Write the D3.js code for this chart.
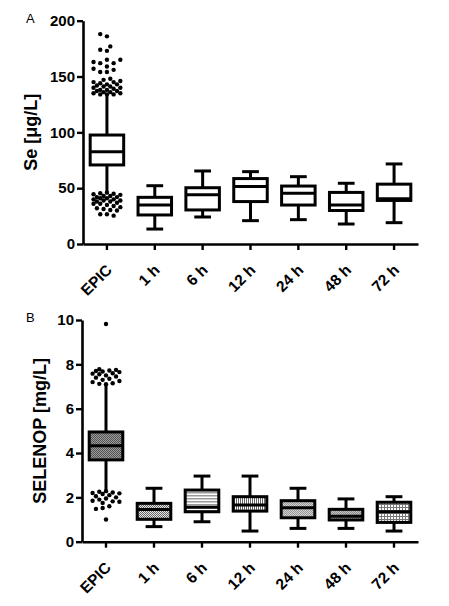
<!DOCTYPE html>
<html>
<head>
<meta charset="utf-8">
<script src="https://cdn.jsdelivr.net/npm/d3@7"></script>
<style>
  body { margin: 0; background: #fff; }
  svg { display: block; font-family: 'Liberation Sans', Arial, sans-serif; }
</style>
</head>
<body>
<div id="chart"></div>
<script>
const categories = ['EPIC', '1 h', '6 h', '12 h', '24 h', '48 h', '72 h']

// panel A: Se [µg/L]
const seLow = [46.5, 13.4, 24.2, 20.9, 21.8, 17.9, 19.1]
const seQ1 = [70.8, 26, 30.5, 38, 34.9, 30, 39]
const seMedian = [82.7, 35, 44, 51.5, 45.5, 35, 40.5]
const seQ3 = [97.6, 41.8, 50.4, 58.6, 51.9, 46.2, 53.6]
const seHigh = [133.5, 52.2, 65.4, 64.8, 60.3, 54.4, 71.7]
const seOutHigh = [188, 186, 177, 174, 173, 165, 165, 163, 162, 162, 159, 157, 156, 154, 154,
  148, 147, 146, 145, 145, 144, 143, 143, 142, 141, 141, 140, 140, 139, 138, 138, 137, 137,
  136, 136, 135, 135, 134, 134, 134]
const seOutLow = [46, 45.5, 45, 44.5, 44, 43, 43, 42, 42, 41, 41, 40, 40, 39, 39, 38, 38, 37,
  36, 36, 35, 34, 33, 32, 31.3, 30.4, 30, 26.6, 25.4, 26.6]
const seTicks = [0, 50, 100, 150, 200]

// panel B: SELENOP [mg/L]
const spLow = [2.29, 0.68, 0.9, 0.48, 0.6, 0.6, 0.48]
const spQ1 = [3.69, 1.01, 1.35, 1.38, 1.08, 0.98, 0.87]
const spMedian = [4.33, 1.45, 1.55, 1.66, 1.53, 1.15, 1.35]
const spQ3 = [4.95, 1.73, 2.33, 2.03, 1.85, 1.46, 1.78]
const spHigh = [7.07, 2.41, 2.96, 2.96, 2.41, 1.93, 2.03]
const spOutHigh = [9.82, 7.78, 7.75, 7.72, 7.7, 7.68, 7.65, 7.6, 7.58, 7.55, 7.5, 7.45, 7.4,
  7.35, 7.3, 7.25, 7.2, 7.15, 7.12, 7.1]
const spOutLow = [2.28, 2.25, 2.22, 2.2, 2.18, 2.15, 2.1, 2.05, 2.0, 1.95, 1.9, 1.85, 1.82,
  1.8, 1.75, 1.6, 1.52, 1.48, 1.0]
const spTicks = [0, 2, 4, 6, 8, 10]

const width = 449
const height = 606

const svg = d3.select('#chart')
  .append('svg')
  .attr('width', width)
  .attr('height', height)

// fill patterns for panel B boxes
const defs = svg.append('defs')
const patterns = [
  { id: 'p0', size: 2, bg: '#9a9a9a', marks: [[0, 0, 1, 1, '#555'], [1, 1, 1, 1, '#555']] },
  { id: 'p1', size: 2, bg: '#e6e6e6', marks: [[0, 0, 1, 1, '#666'], [1, 1, 1, 1, '#666']] },
  { id: 'p2', size: 3, bg: '#fff', marks: [[0, 0, 3, 1.5, '#999']] },
  { id: 'p3', size: 2, bg: '#fff', marks: [[0, 0, 1, 2, '#666']] },
  { id: 'p4', size: 2, bg: '#d0d0d0', marks: [[0, 0, 1, 1, '#999'], [1, 1, 1, 1, '#999']] },
  { id: 'p5', size: 2, bg: '#c4c4c4', marks: [[0, 0, 1, 1, '#8a8a8a'], [1, 1, 1, 1, '#8a8a8a']] },
  { id: 'p6', size: 3, bg: '#fff', marks: [[0, 0, 3, 1, '#777'], [0, 0, 1, 3, '#777']] }
]
patterns.forEach(p => {
  const pat = defs.append('pattern')
    .attr('id', p.id)
    .attr('patternUnits', 'userSpaceOnUse')
    .attr('width', p.size)
    .attr('height', p.size)
  pat.append('rect').attr('width', p.size).attr('height', p.size).attr('fill', p.bg)
  p.marks.forEach(m => pat.append('rect')
    .attr('x', m[0]).attr('y', m[1]).attr('width', m[2]).attr('height', m[3]).attr('fill', m[4]))
})

// simple beeswarm: keep value on y, push dots sideways on a grid;
// when no free slot is left, take the slot that overlaps least
function swarm (values, yScale, step, minDist, maxDx) {
  const placed = []
  const slots = []
  for (let k = 0; Math.ceil(k / 2) * step <= maxDx; k++) {
    slots.push((k % 2 === 0 ? 1 : -1) * Math.ceil(k / 2) * step)
  }
  values.forEach(v => {
    const y = yScale(v)
    let best = 0
    let bestD = -1
    for (const dx of slots) {
      const d = placed.length
        ? d3.min(placed, p => Math.hypot(p.dx - dx, p.y - y))
        : Infinity
      if (d >= minDist) { best = dx; bestD = d; break }
      if (d > bestD) { bestD = d; best = dx }
    }
    placed.push({ dx: best, y })
  })
  return placed
}

function panel (opt) {
  const { top, bottom, left, right, letter, title, ticks, yMax, stats, fills, outHigh, outLow, titleX } = opt

  const x = d3.scaleBand()
    .domain(categories)
    .range([left, right])
    .paddingInner(0.3)
    .paddingOuter(0.15)

  const y = d3.scaleLinear()
    .domain([0, yMax])
    .range([bottom, top])

  const g = svg.append('g')
  const bw = x.bandwidth()
  const cx = d => x(d) + bw / 2

  // axes
  const yAxis = g.append('g')
    .attr('transform', `translate(${left},0)`)
    .call(d3.axisLeft(y).tickValues(ticks).tickSize(6).tickSizeOuter(0).tickPadding(2))
  yAxis.select('.domain').attr('stroke-width', 2.6)
  yAxis.selectAll('.tick line').attr('stroke-width', 2.4)
  yAxis.selectAll('.tick text')
    .attr('font-size', 15)
    .attr('font-weight', 'bold')
    .attr('fill', '#000')

  const xAxis = g.append('g')
    .attr('transform', `translate(0,${bottom})`)
    .call(d3.axisBottom(x).tickSize(6).tickSizeOuter(0))
  xAxis.select('.domain').attr('stroke-width', 2.6)
  xAxis.selectAll('.tick line').attr('stroke-width', 2.4)
  xAxis.selectAll('.tick text')
    .attr('font-size', 15.5)
    .attr('font-weight', 'bold')
    .attr('fill', '#000')
    .attr('text-anchor', 'end')
    .attr('y', 0)
    .attr('dy', 0)
    .attr('transform', 'translate(6,27) rotate(-45)')

  // axis title
  g.append('text')
    .attr('transform', `translate(${titleX},${(top + bottom) / 2}) rotate(-90)`)
    .attr('text-anchor', 'middle')
    .attr('font-size', 18)
    .attr('font-weight', 'bold')
    .text(title)

  g.append('text')
    .attr('x', 26)
    .attr('y', top + 2)
    .attr('font-size', 13)
    .text(letter)

  // boxes
  const boxes = g.append('g')
    .attr('stroke', '#000')
    .attr('stroke-width', 3)
    .selectAll('g')
    .data(categories)
    .join('g')

  boxes.append('line')
    .attr('x1', d => cx(d)).attr('x2', d => cx(d))
    .attr('y1', (d, i) => y(stats.high[i])).attr('y2', (d, i) => y(stats.q3[i]))
  boxes.append('line')
    .attr('x1', d => cx(d)).attr('x2', d => cx(d))
    .attr('y1', (d, i) => y(stats.q1[i])).attr('y2', (d, i) => y(stats.low[i]))
  boxes.filter((d, i) => i > 0).append('line')
    .attr('x1', d => cx(d) - bw / 4).attr('x2', d => cx(d) + bw / 4)
    .attr('y1', d => y(stats.high[categories.indexOf(d)]))
    .attr('y2', d => y(stats.high[categories.indexOf(d)]))
  boxes.filter((d, i) => i > 0).append('line')
    .attr('x1', d => cx(d) - bw / 4).attr('x2', d => cx(d) + bw / 4)
    .attr('y1', d => y(stats.low[categories.indexOf(d)]))
    .attr('y2', d => y(stats.low[categories.indexOf(d)]))
  boxes.append('rect')
    .attr('x', d => x(d))
    .attr('width', bw)
    .attr('y', (d, i) => y(stats.q3[i]))
    .attr('height', (d, i) => y(stats.q1[i]) - y(stats.q3[i]))
    .attr('fill', (d, i) => fills[i])
  boxes.append('line')
    .attr('x1', d => x(d)).attr('x2', d => x(d) + bw)
    .attr('y1', (d, i) => y(stats.median[i])).attr('y2', (d, i) => y(stats.median[i]))

  // outliers for EPIC
  const r = 2.2
  const maxDx = 13.4
  const dots = swarm(outHigh.slice().sort((a, b) => a - b), y, 3.35, 5, maxDx)
    .concat(swarm(outLow.slice().sort((a, b) => b - a), y, 3.35, 5, maxDx))
  g.append('g')
    .selectAll('circle')
    .data(dots)
    .join('circle')
    .attr('cx', d => cx(categories[0]) + d.dx)
    .attr('cy', d => d.y)
    .attr('r', r)
    .attr('fill', '#000')
}

panel({
  top: 20.7,
  bottom: 244,
  left: 83,
  right: 418,
  letter: 'A',
  title: 'Se [\u03bcg/L]',
  titleX: 37,
  ticks: seTicks,
  yMax: 200,
  stats: { low: seLow, q1: seQ1, median: seMedian, q3: seQ3, high: seHigh },
  fills: categories.map(() => '#fff'),
  outHigh: seOutHigh,
  outLow: seOutLow
})

panel({
  top: 320,
  bottom: 541.7,
  left: 82,
  right: 418,
  letter: 'B',
  title: 'SELENOP [mg/L]',
  titleX: 46,
  ticks: spTicks,
  yMax: 10,
  stats: { low: spLow, q1: spQ1, median: spMedian, q3: spQ3, high: spHigh },
  fills: patterns.map(p => `url(#${p.id})`),
  outHigh: spOutHigh,
  outLow: spOutLow
})
</script>
</body>
</html>
